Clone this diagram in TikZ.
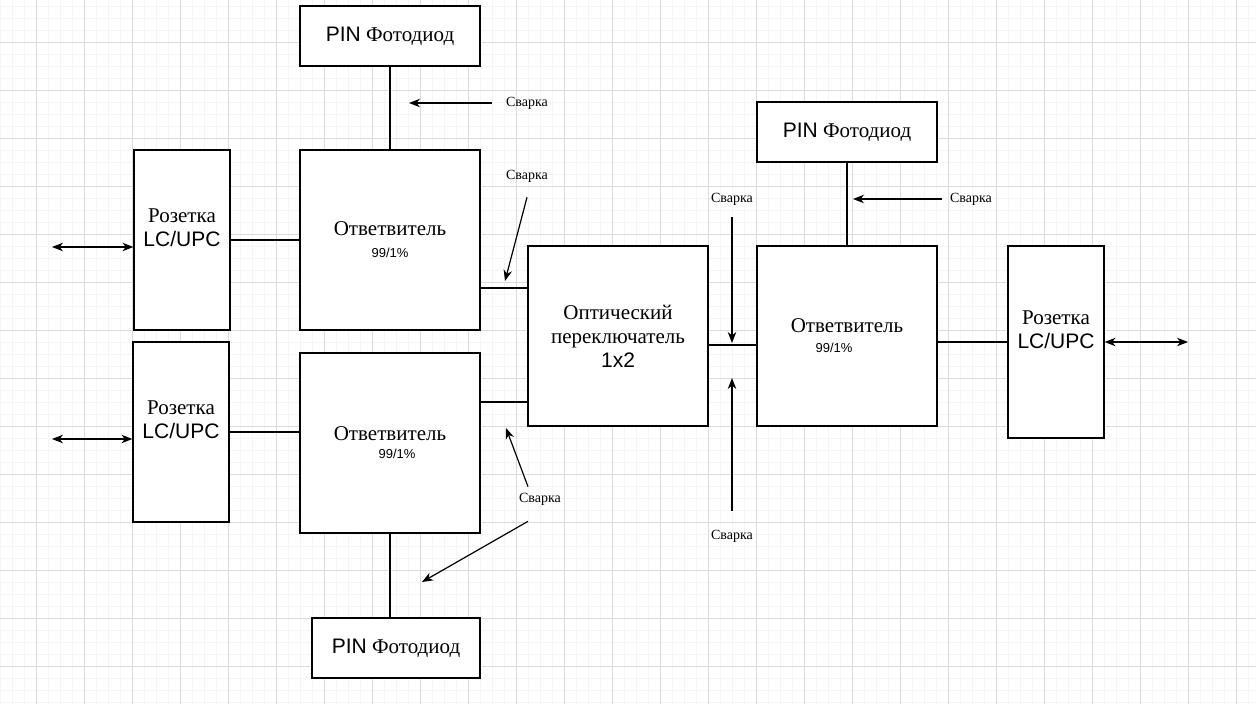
\documentclass[tikz,border=0pt]{standalone}
\usepackage{fontspec}
\setmainfont{Liberation Serif}
\setsansfont{Liberation Sans}
\usepackage{tikz}
\usetikzlibrary{arrows.meta}

\begin{document}
\begin{tikzpicture}[x=1pt,y=-1pt,
  box/.style={draw,line width=1.2pt,fill=white,inner sep=0pt,align=center,
    font=\fontsize{21}{24}\selectfont},
  weld/.style={font=\fontsize{14}{14}\selectfont,inner sep=2pt},
  wire/.style={line width=1.2pt},
  >={Stealth[length=11pt,width=8.5pt,inset=3.5pt]}]
\useasboundingbox (0,0) rectangle (1256,704);
% grid
\foreach \x in {0,12,...,1256} \draw[gray!8] (\x,0) -- (\x,704);
\foreach \y in {6,18,...,704} \draw[gray!8] (0,\y) -- (1256,\y);
\foreach \x in {36,84,...,1256} \draw[gray!28] (\x,0) -- (\x,704);
\foreach \y in {42,90,...,704} \draw[gray!28] (0,\y) -- (1256,\y);

% blocks
\node[box,minimum width=180pt,minimum height=60pt] (pd1) at (390,36) {\textsf{PIN} Фотодиод};
\node[box,minimum width=180pt,minimum height=180pt] (cp1) at (390,240)
  {Ответвитель\\[-2pt]{\sffamily\fontsize{13}{13}\selectfont 99/1\%}};
\node[box,minimum width=96pt,minimum height=180pt,
  label={[font=\fontsize{21}{24}\selectfont,align=center,yshift=12pt]center:Розетка\\\textsf{LC/UPC}}] (rz1) at (182,240) {};
\node[box,minimum width=96pt,minimum height=180pt,
  label={[font=\fontsize{21}{24}\selectfont,align=center,yshift=12pt]center:Розетка\\\textsf{LC/UPC}}] (rz2) at (181,432) {};
\node[box,minimum width=180pt,minimum height=180pt] (cp2) at (390,443)
  {Ответвитель\\[-6pt]\hspace*{14pt}{\sffamily\fontsize{13}{13}\selectfont 99/1\%}};
\node[box,minimum width=168pt,minimum height=60pt] (pd3) at (396,648) {\textsf{PIN} Фотодиод};
\node[box,minimum width=180pt,minimum height=180pt] (sw) at (618,336)
  {Оптический\\переключатель\\\textsf{1x2}};
\node[box,minimum width=180pt,minimum height=60pt] (pd2) at (847,132) {\textsf{PIN} Фотодиод};
\node[box,minimum width=180pt,minimum height=180pt] (cp3) at (847,336)
  {Ответвитель\\[-4pt]\hspace*{-26pt}{\sffamily\fontsize{13}{13}\selectfont 99/1\%}};
\node[box,minimum width=96pt,minimum height=192pt,
  label={[font=\fontsize{21}{24}\selectfont,align=center,yshift=12pt]center:Розетка\\\textsf{LC/UPC}}] (rz3) at (1056,342) {};

% fibre
\coordinate (in1) at (52,247);
\coordinate (in2) at (52,439);
\coordinate (out1) at (1188,342);
\draw[wire,<->] (in1) -- (in1 -| rz1.west);
\draw[wire,<->] (in2) -- (in2 -| rz2.west);
\draw[wire,<->] (rz3.east) -- (out1);
\draw[wire] (rz1.east) -- (cp1.west);
\draw[wire] (rz2.east) -- (rz2.east -| cp2.west);
\draw[wire] (pd1) -- (cp1);
\draw[wire] (cp2.south) -- (cp2.south |- pd3.north);
\draw[wire] ([yshift=-48pt]cp1.east) -- ([yshift=-48pt]cp1.east -| sw.west);
\draw[wire] ([yshift=41pt]cp2.east) -- ([yshift=41pt]cp2.east -| sw.west);
\draw[wire] ([yshift=-9pt]sw.east) -- ([yshift=-9pt]sw.east -| cp3.west);
\draw[wire] (pd2) -- (cp3);
\draw[wire] (rz3.west -| cp3.east) -- (rz3.west);

% splices
\node[weld] (sp1) at (527,103) {Сварка};
\node[weld] (sp2) at (527,176) {Сварка};
\node[weld] (sp3) at (540,499) {Сварка};
\node[weld] (sp4) at (732,199) {Сварка};
\node[weld] (sp5) at (732,536) {Сварка};
\node[weld] (sp6) at (971,199) {Сварка};
\coordinate (j1) at (409,103);
\coordinate (j2) at (505,281);
\coordinate (j3) at (506,428);
\coordinate (j4) at (422,582);
\coordinate (j5) at (732,343);
\coordinate (j6) at (732,378);
\coordinate (j7) at (853,199);
\draw[wire,->] ([xshift=-12pt]sp1.west) -- (j1);
\draw[wire,->] ([yshift=-13pt]sp2.south) -- (j2);
\draw[wire,->] ([xshift=-12pt,yshift=4pt]sp3.north) -- (j3);
\draw[wire,->] ([xshift=-12pt,yshift=-14pt]sp3.south) -- (j4);
\draw[wire,->] ([yshift=-10pt]sp4.south) -- (j5);
\draw[wire,->] ([yshift=17pt]sp5.north) -- (j6);
\draw[wire,->] ([xshift=-6pt]sp6.west) -- (j7);
\end{tikzpicture}
\end{document}
